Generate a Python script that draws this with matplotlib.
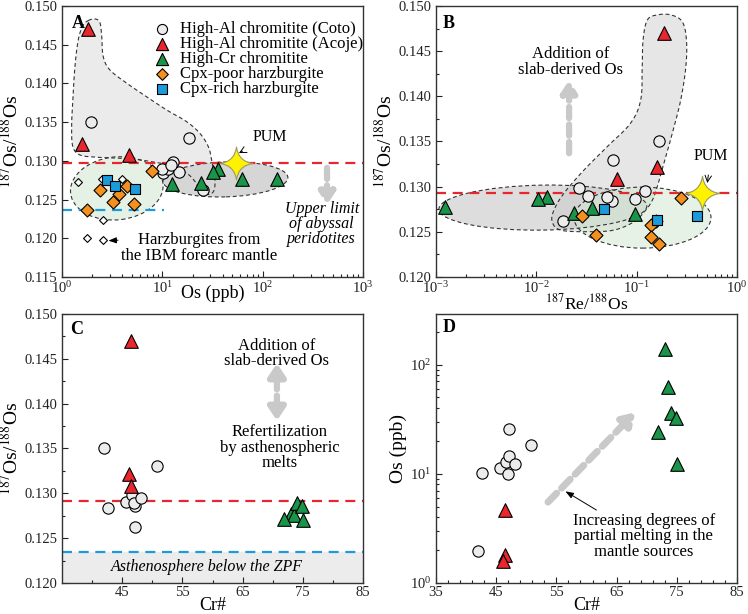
import numpy as np
import matplotlib.pyplot as plt
from matplotlib.path import Path
from matplotlib.patches import Polygon, Ellipse
from matplotlib.ticker import FixedLocator, MultipleLocator, LogLocator, FormatStrFormatter

plt.rcParams['font.family'] = ['Liberation Serif', 'DejaVu Serif']
plt.rcParams['mathtext.fontset'] = 'stix'

# ---- data ----
coto_os = [1.95, 10.1, 11.4, 12.9, 14.6, 25.6, 10.0, 12.2, 18.4]
coto_ratio = [0.1350, 0.1284, 0.1290, 0.1298, 0.1286, 0.1262, 0.1289, 0.1295, 0.1330]
coto_reos = [0.1675, 0.0571, 0.0327, 0.0266, 0.0953, 0.0186, 0.0501, 0.121, 0.0585]
coto_cr = [41.9, 42.6, 45.6, 46.6, 47.1, 47.2, 47.0, 48.2, 50.8]

acoje_os = [1.8, 1.6, 4.7]
acoje_ratio = [0.1470, 0.1322, 0.1308]
acoje_reos = [0.186, 0.158, 0.063]
acoje_cr = [46.5, 46.1, 46.4]

highcr_os = [139, 62.8, 35.7, 32.1, 24.2, 12.4]
highcr_ratio = [0.1277, 0.1276, 0.1289, 0.1286, 0.1271, 0.1270]
highcr_reos = [0.00123, 0.0362, 0.0128, 0.0105, 0.0238, 0.096]
highcr_cr = [73.0, 73.6, 74.1, 74.8, 71.9, 75.0]

cpxpoor_os = [1.78, 2.39, 3.23, 3.70, 4.45, 5.22, 7.89]
cpxpoor_ratio = [0.1237, 0.1262, 0.1247, 0.1257, 0.1268, 0.1244, 0.1287]
cpxpoor_reos = [0.167, 0.155, 0.0394, 0.139, 0.0285, 0.139, 0.277]

cpxrich_os = [2.81, 3.38, 5.34]
cpxrich_ratio = [0.1275, 0.1268, 0.1263]
cpxrich_reos = [0.0469, 0.403, 0.1596]

ibm_os = [1.44, 2.56, 1.78, 2.56, 3.97, 2.5]
ibm_ratio = [0.1273, 0.1224, 0.1200, 0.1198, 0.1277, 0.1277]

pum_os = 54
pum_reos = 0.45
pum_ratio = [0.1297, 0.1293, 0.1291]   # as drawn in A, B, C
abyssal_limit = 0.1236

# ---- styles ----
RED = '#e8262d'
GREEN = '#1a9448'
ORANGE = '#f5901e'
BLUE = '#1c9ad9'
CIRC = '#ececec'
ARROW_GRAY = '#c9c9c9'

series = [
    ('High-Al chromitite (Coto)', 'o', CIRC, 66),
    ('High-Al chromitite (Acoje)', '^', RED, 96),
    ('High-Cr chromitite', '^', GREEN, 96),
    ('Cpx-poor harzburgite', 'D', ORANGE, 44),
    ('Cpx-rich harzburgite', 's', BLUE, 56),
]

star = Path([(0, 1), (0.12, 0.12), (1, 0), (0.12, -0.12), (0, -1),
             (-0.12, -0.12), (-1, 0), (-0.12, 0.12), (0, 1), (0, 1)],
            [Path.MOVETO, Path.CURVE3, Path.CURVE3, Path.CURVE3, Path.CURVE3,
             Path.CURVE3, Path.CURVE3, Path.CURVE3, Path.CURVE3, Path.CLOSEPOLY])


def smooth_closed(pts, n=24):
    pts = np.asarray(pts, float)
    P = np.vstack([pts[-1], pts, pts[0], pts[1]])
    t = np.linspace(0, 1, n, endpoint=False)[:, None]
    out = []
    for i in range(1, len(pts) + 1):
        p0, p1, p2, p3 = P[i - 1], P[i], P[i + 1], P[i + 2]
        out.append(0.5 * (2 * p1 + (-p0 + p2) * t + (2 * p0 - 5 * p1 + 4 * p2 - p3) * t ** 2
                          + (-p0 + 3 * p1 - 3 * p2 + p3) * t ** 3))
    return np.vstack(out)


def region(ax, pts, fc, alpha=1.0):
    ax.add_patch(Polygon(smooth_closed(pts), closed=True, transform=ax.transAxes,
                         facecolor=fc, alpha=alpha, edgecolor='none', zorder=0.5))
    ax.add_patch(Polygon(smooth_closed(pts), closed=True, transform=ax.transAxes,
                         facecolor='none', edgecolor='#333333', lw=0.8,
                         ls=(0, (3.5, 2.5)), zorder=0.6))


def oval(ax, c, w, h, ang, fc, alpha=1.0):
    ax.add_patch(Ellipse(c, w, h, angle=ang, transform=ax.transAxes,
                         facecolor=fc, alpha=alpha, edgecolor='none', zorder=0.5))
    ax.add_patch(Ellipse(c, w, h, angle=ang, transform=ax.transAxes,
                         facecolor='none', edgecolor='#333333', lw=0.8,
                         ls=(0, (3.5, 2.5)), zorder=0.6))


def pts(ax, x, y, mk, fc, s, z=3):
    ax.scatter(x, y, marker=mk, s=s, facecolor=fc, edgecolor='black', lw=0.8, zorder=z)


def style(ax):
    for sp in ax.spines.values():
        sp.set_linewidth(1.0)
        sp.set_color('#333333')
    ax.tick_params(which='both', direction='in', top=False, right=False,
                   labelsize=10.5, width=0.8, colors='#222222')
    ax.tick_params(which='major', length=4)
    ax.tick_params(which='minor', length=2.5)
    ax.tick_params(axis='x', which='both', pad=2.5)


def dashed_arrow(ax, xy_from, xy_to, lw=4.5):
    ax.annotate('', xy=xy_to, xytext=xy_from,
                arrowprops=dict(arrowstyle='-|>,head_length=0.7,head_width=0.45',
                                lw=lw, color=ARROW_GRAY, ls=(0, (1.8, 1.0)),
                                shrinkA=0, shrinkB=0), zorder=2)


fig = plt.figure(figsize=(7.48, 6.14), dpi=100)
axA = fig.add_axes([0.0829, 0.5489, 0.4024, 0.4414])
axB = fig.add_axes([0.5829, 0.5489, 0.4024, 0.4414])
axC = fig.add_axes([0.0829, 0.0505, 0.4024, 0.4381])
axD = fig.add_axes([0.5829, 0.0505, 0.4024, 0.4381])

ylab = r'$^{187}$Os/$^{188}$Os'

# ================= A =================
ax = axA
ax.set_xscale('log')
ax.set_xlim(1, 1000)
ax.set_ylim(0.115, 0.150)
region(ax, [(0.087, 0.946), (0.110, 0.952), (0.126, 0.938), (0.132, 0.887), (0.137, 0.813),
            (0.159, 0.764), (0.215, 0.715), (0.281, 0.665), (0.348, 0.616), (0.414, 0.573),
            (0.458, 0.530), (0.486, 0.481), (0.497, 0.432), (0.508, 0.358), (0.503, 0.315),
            (0.481, 0.305), (0.458, 0.321), (0.442, 0.352), (0.414, 0.383), (0.359, 0.413),
            (0.315, 0.422), (0.259, 0.432), (0.193, 0.438), (0.115, 0.442), (0.060, 0.450),
            (0.036, 0.481), (0.032, 0.555), (0.036, 0.653), (0.043, 0.776), (0.054, 0.875),
            (0.069, 0.926)], '#ebebeb')
oval(ax, (0.543, 0.360), 0.415, 0.129, 2, '#d6d6d6')
oval(ax, (0.182, 0.327), 0.309, 0.232, 8, '#e4f1e4')
ax.axhline(pum_ratio[0], color=RED, lw=1.6, ls=(0, (4.5, 3)), zorder=1.5)
ax.plot([1, 10.3], [abyssal_limit, abyssal_limit], color=BLUE, lw=1.6, ls=(0, (4.5, 3)), zorder=1.5)
pts(ax, ibm_os, ibm_ratio, 'D', 'white', 16)
pts(ax, coto_os, coto_ratio, 'o', CIRC, 66)
pts(ax, acoje_os, acoje_ratio, '^', RED, 96)
pts(ax, highcr_os, highcr_ratio, '^', GREEN, 96)
pts(ax, cpxpoor_os, cpxpoor_ratio, 'D', ORANGE, 44)
pts(ax, cpxrich_os, cpxrich_ratio, 's', BLUE, 56, z=4)
ax.scatter([pum_os], [pum_ratio[0]], marker=star, s=560, facecolor='#fff200',
           edgecolor='#9a9a60', lw=0.8, zorder=5)
ax.annotate('PUM', xy=(58, 0.1310), xytext=(118, 0.1331), fontsize=11.5,
            ha='center', va='center',
            arrowprops=dict(arrowstyle='->', lw=0.7, color='black', shrinkA=6, shrinkB=0))
dashed_arrow(ax, (438, 0.1291), (438, 0.1243))
ax.text(388, 0.12185, 'Upper limit\nof abyssal\nperidotites', style='italic', fontsize=11.5,
        ha='center', va='center', linespacing=0.95)
ax.annotate('Harzburgites from\nthe IBM forearc mantle', xy=(2.9, 0.11969),
            xytext=(23.2, 0.11875), fontsize=12, ha='center', va='center',
            linespacing=0.95,
            arrowprops=dict(arrowstyle='-|>,head_length=0.4,head_width=0.15', lw=0.7,
                            color='black', shrinkA=0, shrinkB=0,
                            relpos=(0.0, 0.75)))
# legend
for i, (lab, mk, fc, s) in enumerate(series):
    yy = 0.915 - i * 0.0553
    ax.scatter([0.332], [yy], marker=mk, s=s * 0.8, facecolor=fc, edgecolor='black',
               lw=0.8, transform=ax.transAxes, zorder=6)
    ax.text(0.392, yy, lab, fontsize=12, va='center', ha='left', transform=ax.transAxes)
ax.text(0.053, 0.937, 'A', fontsize=13, fontweight='bold', ha='center', va='center',
        transform=ax.transAxes, zorder=7)
ax.yaxis.set_major_locator(MultipleLocator(0.005))
ax.yaxis.set_major_formatter(FormatStrFormatter('%.3f'))
ax.xaxis.set_minor_locator(LogLocator(subs=np.arange(2, 10)))
ax.set_xlabel('Os (ppb)', fontsize=13, va='baseline')
ax.xaxis.set_label_coords(0.5, -0.078)
ax.set_ylabel(ylab, fontsize=14, labelpad=2)
style(ax)

# ================= B =================
ax = axB
ax.set_xscale('log')
ax.set_xlim(1e-3, 1)
ax.set_ylim(0.120, 0.150)
oval(ax, (0.355, 0.256), 0.691, 0.166, 1, '#b5b5b5', 0.45)
region(ax, [(0.702, 0.948), (0.735, 0.967), (0.780, 0.967), (0.818, 0.942), (0.832, 0.875),
            (0.830, 0.776), (0.813, 0.653), (0.785, 0.530), (0.757, 0.419), (0.735, 0.333),
            (0.719, 0.284), (0.697, 0.247), (0.658, 0.204), (0.591, 0.173), (0.503, 0.167),
            (0.414, 0.173), (0.386, 0.204), (0.392, 0.247), (0.425, 0.309), (0.492, 0.395),
            (0.569, 0.481), (0.646, 0.567), (0.680, 0.653), (0.685, 0.776), (0.688, 0.875)],
       '#c8c8c8', 0.45)
oval(ax, (0.686, 0.219), 0.455, 0.225, 0, '#d3e9d3', 0.55)
ax.axhline(pum_ratio[1], color=RED, lw=1.6, ls=(0, (4.5, 3)), zorder=1.5)
pts(ax, coto_reos, coto_ratio, 'o', CIRC, 66)
pts(ax, acoje_reos, acoje_ratio, '^', RED, 96)
pts(ax, highcr_reos, highcr_ratio, '^', GREEN, 96)
pts(ax, cpxpoor_reos, cpxpoor_ratio, 'D', ORANGE, 44)
pts(ax, cpxrich_reos, cpxrich_ratio, 's', BLUE, 56, z=4)
ax.scatter([pum_reos], [pum_ratio[1]], marker=star, s=620, facecolor='#fff200',
           edgecolor='#9a9a60', lw=0.8, zorder=5)
ax.annotate('PUM', xy=(0.506, 0.1304), xytext=(0.547, 0.1334), fontsize=11.5,
            ha='center', va='center',
            arrowprops=dict(arrowstyle='->', lw=0.7, color='black', shrinkA=6, shrinkB=0))
dashed_arrow(ax, (0.0212, 0.1337), (0.0212, 0.1418))
ax.text(0.022, 0.1438, 'Addition of\nslab-derived Os', fontsize=12, ha='center',
        va='center', linespacing=0.95)
ax.text(0.043, 0.937, 'B', fontsize=13, fontweight='bold', ha='center', va='center',
        transform=ax.transAxes, zorder=7)
ax.yaxis.set_major_locator(MultipleLocator(0.005))
ax.yaxis.set_minor_locator(MultipleLocator(0.0025))
ax.yaxis.set_major_formatter(FormatStrFormatter('%.3f'))
ax.xaxis.set_minor_locator(LogLocator(subs=np.arange(2, 10)))
ax.set_xlabel(r'$^{187}$Re/$^{188}$Os', fontsize=12.5, va='baseline')
ax.xaxis.set_label_coords(0.5, -0.12)
ax.set_ylabel(ylab, fontsize=14, labelpad=2)
style(ax)

# ================= C =================
ax = axC
ax.set_xlim(35, 85)
ax.set_ylim(0.120, 0.150)
ax.axhspan(0.120, 0.1235, color='#ececec', zorder=0)
ax.axhline(pum_ratio[2], color=RED, lw=1.6, ls=(0, (4.5, 3)), zorder=1.5)
ax.axhline(0.1235, color=BLUE, lw=1.6, ls=(0, (4.5, 3)), zorder=1.5)
pts(ax, coto_cr, coto_ratio, 'o', CIRC, 66)
pts(ax, acoje_cr, acoje_ratio, '^', RED, 96)
pts(ax, highcr_cr, highcr_ratio, '^', GREEN, 96)
for y0, y1 in [(0.1416, 0.1445), (0.1409, 0.1381)]:
    ax.annotate('', xy=(70.7, y1), xytext=(70.7, y0),
                arrowprops=dict(arrowstyle='-|>,head_length=0.75,head_width=0.5',
                                lw=4.5, color=ARROW_GRAY, shrinkA=0, shrinkB=0))
ax.text(70.7, 0.1456, 'Addition of\nslab-derived Os', fontsize=12, ha='center',
        va='center', linespacing=0.95)
ax.text(71.2, 0.1351, 'Refertilization\nby asthenospheric\nmelts', fontsize=12,
        ha='center', va='center', linespacing=0.95)
ax.text(59.0, 0.1218, 'Asthenosphere below the ZPF', style='italic', fontsize=11.5,
        ha='center', va='center')
ax.text(0.047, 0.943, 'C', fontsize=13, fontweight='bold', ha='center', va='center',
        transform=ax.transAxes, zorder=7)
ax.xaxis.set_major_locator(FixedLocator([45, 55, 65, 75, 85]))
ax.xaxis.set_minor_locator(FixedLocator([40, 50, 60, 70, 80]))
ax.yaxis.set_major_locator(MultipleLocator(0.005))
ax.yaxis.set_minor_locator(MultipleLocator(0.0025))
ax.yaxis.set_major_formatter(FormatStrFormatter('%.3f'))
ax.set_xlabel('Cr#', fontsize=13, va='baseline')
ax.xaxis.set_label_coords(0.5, -0.1)
ax.set_ylabel(ylab, fontsize=14, labelpad=2)
style(ax)

# ================= D =================
ax = axD
ax.set_xlim(35, 85)
ax.set_yscale('log')
ax.set_ylim(1, 290)
pts(ax, coto_cr, coto_os, 'o', CIRC, 66)
pts(ax, acoje_cr, acoje_os, '^', RED, 96)
pts(ax, highcr_cr, highcr_os, '^', GREEN, 96)
dashed_arrow(ax, (53.6, 5.5), (68.1, 36.5), lw=5)
ax.annotate('Increasing degrees of\npartial melting in the\nmantle sources', xy=(56.5, 6.9),
            xytext=(69.5, 2.68), fontsize=12, ha='center', va='center', linespacing=0.95,
            arrowprops=dict(arrowstyle='-|>,head_length=0.4,head_width=0.15', lw=0.7,
                            color='black', shrinkA=0, shrinkB=0, relpos=(0.2, 1.0)))
ax.text(0.043, 0.948, 'D', fontsize=13, fontweight='bold', ha='center', va='center',
        transform=ax.transAxes, zorder=7)
ax.xaxis.set_major_locator(FixedLocator([35, 45, 55, 65, 75, 85]))
ax.xaxis.set_minor_locator(FixedLocator(list(range(35, 86, 2))))
ax.yaxis.set_minor_locator(LogLocator(subs=np.arange(2, 10)))
ax.set_xlabel('Cr#', fontsize=13, va='baseline')
ax.xaxis.set_label_coords(0.5, -0.1)
ax.set_ylabel('Os (ppb)', fontsize=14, labelpad=2)
style(ax)

fig.savefig('out.png', dpi=100)
